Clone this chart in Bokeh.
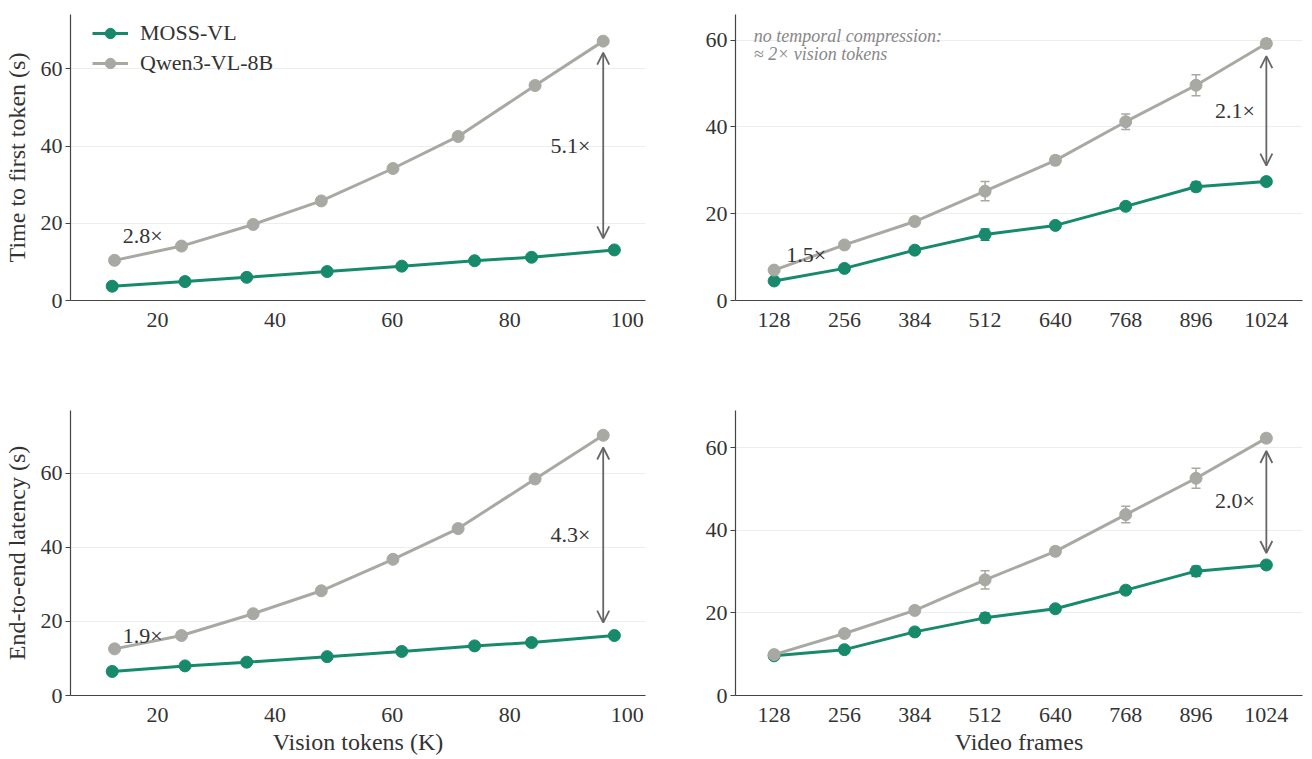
import math
from bokeh.plotting import figure
from bokeh.layouts import column, row
from bokeh.models import (ColumnDataSource, Whisker, TeeHead, Arrow, OpenHead,
                          FixedTicker, Range1d, Legend, LegendItem)
from bokeh.core.properties import value
from bokeh.embed import file_html
from bokeh.resources import INLINE

# ---------------- data ----------------
# Left panels: vision tokens (K)
moss_tokens = [12.3, 24.7, 35.2, 48.9, 61.6, 74.0, 83.7, 97.8]
qwen_tokens = [12.7, 24.1, 36.3, 47.9, 60.1, 71.2, 84.3, 95.9]
moss_ttft_tok = [3.7, 4.9, 6.0, 7.5, 8.9, 10.3, 11.2, 13.1]
qwen_ttft_tok = [10.4, 14.1, 19.7, 25.8, 34.2, 42.5, 55.7, 67.2]
moss_e2e_tok = [6.5, 8.0, 9.0, 10.5, 11.9, 13.4, 14.3, 16.2]
qwen_e2e_tok = [12.6, 16.2, 22.1, 28.3, 36.8, 45.1, 58.5, 70.3]

# Right panels: video frames
frames = [128, 256, 384, 512, 640, 768, 896, 1024]
moss_ttft_fr = [4.5, 7.4, 11.6, 15.2, 17.3, 21.7, 26.2, 27.4]
moss_ttft_fr_err = [0.5, 0.5, 0.5, 1.3, 0.6, 0.8, 1.1, 0.6]
qwen_ttft_fr = [7.0, 12.8, 18.2, 25.2, 32.3, 41.2, 49.6, 59.2]
qwen_ttft_fr_err = [0.5, 0.6, 0.9, 2.2, 1.0, 1.8, 2.4, 1.0]
moss_e2e_fr = [9.6, 11.1, 15.4, 18.8, 21.0, 25.5, 30.1, 31.6]
moss_e2e_fr_err = [0.5, 0.7, 0.8, 1.2, 0.7, 0.9, 1.2, 0.8]
qwen_e2e_fr = [9.9, 15.0, 20.6, 28.0, 34.9, 43.8, 52.6, 62.3]
qwen_e2e_fr_err = [0.5, 0.6, 0.8, 2.2, 1.0, 2.0, 2.4, 1.0]

token_ticks = [20, 40, 60, 80, 100]
frame_ticks = frames
y_ticks = [0, 20, 40, 60]

series_names = ["MOSS-VL", "Qwen3-VL-8B"]
y_labels = ["Time to first token (s)", "End-to-end latency (s)"]
x_labels = ["Vision tokens (K)", "Video frames"]

# annotations: (x, y, text, align)
ann_tl = [(14.1, 16.8, "2.8\u00d7", "left"), (93.7, 40.2, "5.1\u00d7", "right")]
ann_tr = [(150, 10.6, "1.5\u00d7", "left"), (1003, 43.8, "2.1\u00d7", "right")]
ann_bl = [(14.1, 16.3, "1.9\u00d7", "left"), (93.7, 43.5, "4.3\u00d7", "right")]
ann_br = [(1003, 47.3, "2.0\u00d7", "right")]
# arrows: (x, y_top, y_bottom)
arrow_tl = (95.9, 64.2, 16.1)
arrow_tr = (1024, 56.3, 31.1)
arrow_bl = (95.9, 67.0, 19.7)
arrow_br = (1024, 59.2, 34.5)
note_lines = ["no temporal compression:", "\u2248 2\u00d7 vision tokens"]
note_pos = (91, 60.9, 56.9)

# ---------------- style ----------------
GREEN = "#168a6b"
GRAY = "#a9a9a3"
FONT = "Liberation Serif"
TXT = "#333333"
TICK_PX = "22px"
LABEL_PX = "24px"


def make_fig(width, height, bl, br, bt, bb, xr, yr):
    p = figure(width=width, height=height, output_backend="svg", toolbar_location=None,
               x_range=Range1d(*xr), y_range=Range1d(*yr),
               min_border_left=bl, min_border_right=br, min_border_top=bt, min_border_bottom=bb)
    p.outline_line_color = None
    p.xgrid.grid_line_color = None
    p.ygrid.grid_line_color = "#ededed"
    p.ygrid.grid_line_width = 1
    p.yaxis.ticker = FixedTicker(ticks=y_ticks)
    for ax in (p.xaxis, p.yaxis):
        ax.axis_line_color = "#444444"
        ax.axis_line_width = 1.2
        ax.major_label_text_font = FONT
        ax.major_label_text_font_size = TICK_PX
        ax.major_label_text_color = TXT
        ax.minor_tick_line_color = None
        ax.axis_label_text_font = FONT
        ax.axis_label_text_font_size = LABEL_PX
        ax.axis_label_text_font_style = "normal"
        ax.axis_label_text_color = TXT
    p.xaxis.major_tick_line_color = None
    p.xaxis.major_label_standoff = 6
    p.yaxis.major_tick_line_color = "#444444"
    p.yaxis.major_tick_out = 5
    p.yaxis.major_tick_in = 0
    p.yaxis.major_label_standoff = 3
    p.yaxis.axis_label_standoff = 8
    return p


def draw_series(p, xs, ys, color, err=None):
    src = ColumnDataSource(dict(x=xs, y=ys))
    r1 = p.line("x", "y", source=src, line_color=color, line_width=3)
    r2 = p.scatter("x", "y", source=src, size=12, fill_color=color, line_color=color)
    if err is not None:
        esrc = ColumnDataSource(dict(x=xs, lo=[a - b for a, b in zip(ys, err)],
                                     hi=[a + b for a, b in zip(ys, err)]))
        w = Whisker(base="x", lower="lo", upper="hi", source=esrc, dimension="height",
                    line_color=color, line_width=1.5,
                    upper_head=TeeHead(size=9, line_color=color, line_width=1.5),
                    lower_head=TeeHead(size=9, line_color=color, line_width=1.5))
        p.add_layout(w)
    return [r1, r2]


def add_ann(p, anns, arrow):
    for (x, y, t, align) in anns:
        p.text(x=[x], y=[y], text=[t], text_font=value(FONT), text_font_size="22px",
               text_color=TXT, text_align=align, text_baseline="middle")
    ax, y0, y1 = arrow
    p.add_layout(Arrow(x_start=ax, y_start=y0, x_end=ax, y_end=y1,
                       line_color="#666666", line_width=1.8,
                       start=OpenHead(size=12, line_color="#666666", line_width=1.8),
                       end=OpenHead(size=12, line_color="#666666", line_width=1.8)))


# Top-left
p1 = make_fig(658, 400, 67, 13, 14, 100, (5.2, 103.1), (0, 74.1))
p1.xaxis.ticker = FixedTicker(ticks=token_ticks)
p1.yaxis.axis_label = y_labels[0]
rm = draw_series(p1, moss_tokens, moss_ttft_tok, GREEN)
rq = draw_series(p1, qwen_tokens, qwen_ttft_tok, GRAY)
# legend-only error-bar glyphs (vertical dash), no data points
em = p1.scatter(x=[], y=[], marker="dash", angle=math.pi / 2, size=22,
                line_color=GREEN, line_width=1.6)
eq = p1.scatter(x=[], y=[], marker="dash", angle=math.pi / 2, size=22,
                line_color=GRAY, line_width=1.6)
add_ann(p1, ann_tl, arrow_tl)
leg = Legend(items=[LegendItem(label=series_names[0], renderers=[em] + rm),
                    LegendItem(label=series_names[1], renderers=[eq] + rq)],
             location=(22, 224))
leg.background_fill_alpha = 0
leg.border_line_color = None
leg.label_text_font = FONT
leg.label_text_font_size = "22px"
leg.label_text_color = TXT
leg.glyph_width = 36
leg.glyph_height = 26
leg.label_height = 26
leg.label_standoff = 12
leg.spacing = 4
leg.padding = 0
leg.margin = 0
p1.add_layout(leg)

# Top-right
p2 = make_fig(646, 400, 77, 2, 14, 100, (57.7, 1089.8), (0, 65.9))
p2.xaxis.ticker = FixedTicker(ticks=frame_ticks)
draw_series(p2, frames, moss_ttft_fr, GREEN, moss_ttft_fr_err)
draw_series(p2, frames, qwen_ttft_fr, GRAY, qwen_ttft_fr_err)
add_ann(p2, ann_tr, arrow_tr)
for line, yy in zip(note_lines, note_pos[1:]):
    p2.text(x=[note_pos[0]], y=[yy], text=[line], text_font=value(FONT),
            text_font_size="18px", text_font_style="italic", text_color="#888888",
            text_align="left", text_baseline="middle")

# Bottom-left
p3 = make_fig(658, 357, 67, 13, 10, 61, (5.2, 103.1), (0, 77.0))
p3.xaxis.ticker = FixedTicker(ticks=token_ticks)
p3.yaxis.axis_label = y_labels[1]
p3.xaxis.axis_label = x_labels[0]
p3.xaxis.axis_label_standoff = 4
draw_series(p3, moss_tokens, moss_e2e_tok, GREEN)
draw_series(p3, qwen_tokens, qwen_e2e_tok, GRAY)
add_ann(p3, ann_bl, arrow_bl)

# Bottom-right
p4 = make_fig(646, 357, 77, 2, 10, 61, (57.7, 1089.8), (0, 69.0))
p4.xaxis.ticker = FixedTicker(ticks=frame_ticks)
p4.xaxis.axis_label = x_labels[1]
p4.xaxis.axis_label_standoff = 4
draw_series(p4, frames, moss_e2e_fr, GREEN, moss_e2e_fr_err)
draw_series(p4, frames, qwen_e2e_fr, GRAY, qwen_e2e_fr_err)
add_ann(p4, ann_br, arrow_br)

layout = column(row(p1, p2, spacing=0), row(p3, p4, spacing=0), spacing=0)
open("out.html", "w").write(file_html(layout, INLINE))
